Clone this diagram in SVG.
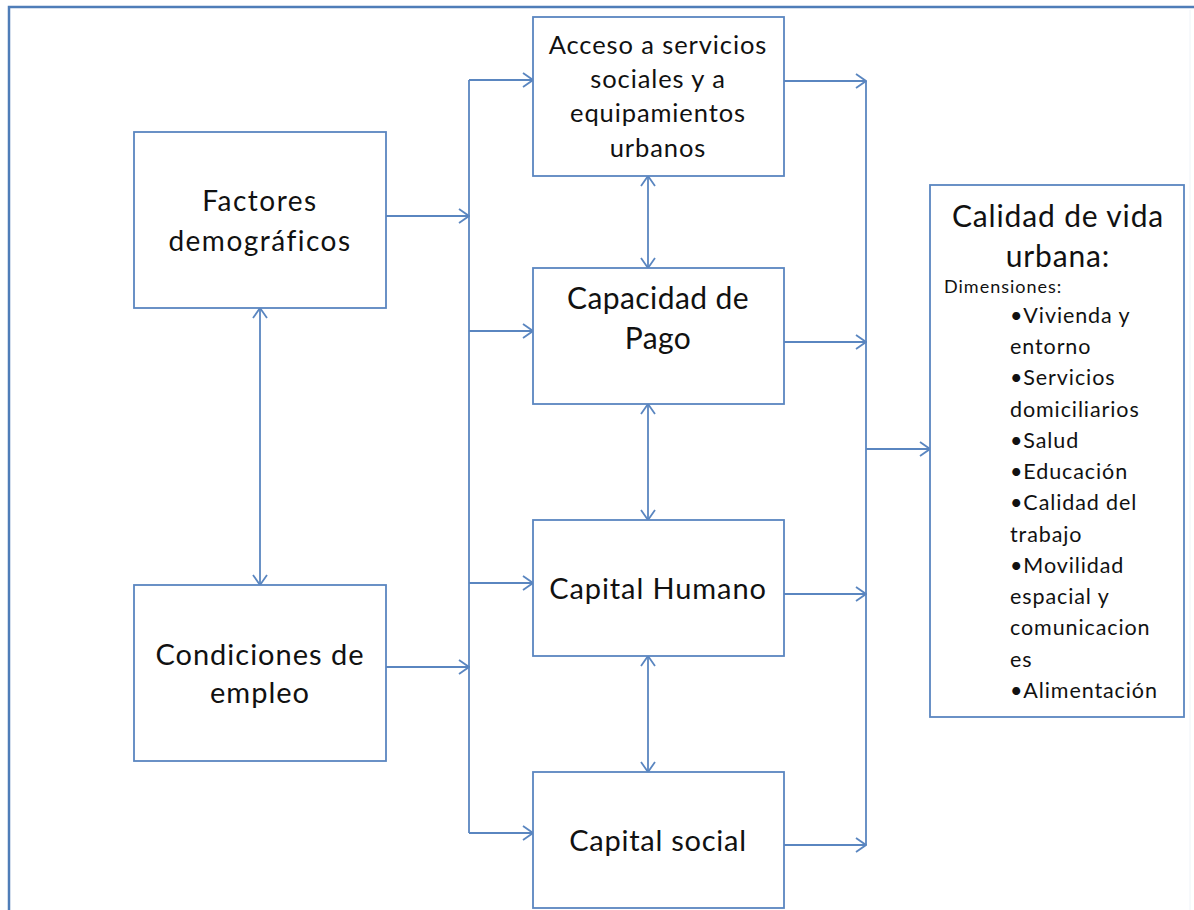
<svg xmlns="http://www.w3.org/2000/svg" width="1194" height="910" viewBox="0 0 1194 910">
  <defs>
    <style>
      .box { fill: #ffffff; stroke: #5a86c0; stroke-width: 1.8; }
      .ln { fill: none; stroke: #5a86c0; stroke-width: 1.8; }
      .t { font-family: Lato, "Liberation Sans", sans-serif; fill: #111111; text-anchor: middle; }
      .l { font-family: Lato, "Liberation Sans", sans-serif; fill: #111111; }
    </style>
    <marker id="ah" viewBox="0 0 12 16" refX="11" refY="8" markerWidth="12" markerHeight="16" markerUnits="userSpaceOnUse" orient="auto-start-reverse">
      <path d="M1,1 L11,8 L1,15" fill="none" stroke="#5a86c0" stroke-width="1.8"/>
    </marker>
  </defs>
  <rect width="1194" height="910" fill="#ffffff"/>
  <path d="M9,910 V7 H1194" fill="none" stroke="#4f7db8" stroke-width="2.5"/>
  <line x1="1190" y1="10" x2="1190" y2="910" stroke="#eef3f8" stroke-width="1"/>

  <g id="connectors">
    <line class="ln" x1="469" y1="80" x2="469" y2="833"/>
    <line class="ln" x1="386" y1="216" x2="469" y2="216" marker-end="url(#ah)"/>
    <line class="ln" x1="386" y1="667" x2="469" y2="667" marker-end="url(#ah)"/>
    <line class="ln" x1="469" y1="80" x2="533" y2="80" marker-end="url(#ah)"/>
    <line class="ln" x1="469" y1="331" x2="533" y2="331" marker-end="url(#ah)"/>
    <line class="ln" x1="469" y1="583" x2="533" y2="583" marker-end="url(#ah)"/>
    <line class="ln" x1="469" y1="833" x2="533" y2="833" marker-end="url(#ah)"/>

    <line class="ln" x1="866" y1="81" x2="866" y2="845"/>
    <line class="ln" x1="784" y1="81" x2="866" y2="81" marker-end="url(#ah)"/>
    <line class="ln" x1="784" y1="342" x2="866" y2="342" marker-end="url(#ah)"/>
    <line class="ln" x1="784" y1="594" x2="866" y2="594" marker-end="url(#ah)"/>
    <line class="ln" x1="784" y1="845" x2="866" y2="845" marker-end="url(#ah)"/>
    <line class="ln" x1="866" y1="449" x2="930" y2="449" marker-end="url(#ah)"/>

    <line class="ln" x1="648" y1="176" x2="648" y2="268" marker-start="url(#ah)" marker-end="url(#ah)"/>
    <line class="ln" x1="648" y1="404" x2="648" y2="520" marker-start="url(#ah)" marker-end="url(#ah)"/>
    <line class="ln" x1="648" y1="656" x2="648" y2="772" marker-start="url(#ah)" marker-end="url(#ah)"/>
    <line class="ln" x1="260" y1="308" x2="260" y2="585" marker-start="url(#ah)" marker-end="url(#ah)"/>
  </g>

  <g id="factores">
    <rect class="box" x="134" y="132" width="252" height="176"/>
    <text class="t" font-size="28" letter-spacing="1.5"><tspan x="260" y="211">Factores</tspan><tspan x="260" y="251">demográficos</tspan></text>
  </g>
  <g id="condiciones">
    <rect class="box" x="134" y="585" width="252" height="176"/>
    <text class="t" font-size="29" letter-spacing="1"><tspan x="260" y="665">Condiciones de</tspan><tspan x="260" y="703">empleo</tspan></text>
  </g>
  <g id="acceso">
    <rect class="box" x="533" y="17" width="251" height="159"/>
    <text class="t" font-size="25.5" letter-spacing="0.9"><tspan x="658" y="54">Acceso a servicios</tspan><tspan x="658" y="88">sociales y a</tspan><tspan x="658" y="122">equipamientos</tspan><tspan x="658" y="157">urbanos</tspan></text>
  </g>
  <g id="capacidad">
    <rect class="box" x="533" y="268" width="251" height="136"/>
    <text class="t" font-size="30" letter-spacing="0.4"><tspan x="658" y="309">Capacidad de</tspan><tspan x="658" y="349">Pago</tspan></text>
  </g>
  <g id="humano">
    <rect class="box" x="533" y="520" width="251" height="136"/>
    <text class="t" font-size="29" letter-spacing="0.9" x="658" y="599">Capital Humano</text>
  </g>
  <g id="social">
    <rect class="box" x="533" y="772" width="251" height="136"/>
    <text class="t" font-size="29" letter-spacing="0.75" x="658" y="851">Capital social</text>
  </g>
  <g id="calidad">
    <rect class="box" x="930" y="185" width="254" height="532"/>
    <text class="t" font-size="30" letter-spacing="0.85"><tspan x="1058" y="227">Calidad de vida</tspan><tspan x="1058" y="267">urbana:</tspan></text>
    <text class="l" font-size="18" letter-spacing="1" x="944" y="293">Dimensiones:</text>
    <text class="l" font-size="21.5" letter-spacing="0.9">
      <tspan x="1010" y="323">•Vivienda y</tspan>
      <tspan x="1010" y="354">entorno</tspan>
      <tspan x="1010" y="385">•Servicios</tspan>
      <tspan x="1010" y="417">domiciliarios</tspan>
      <tspan x="1010" y="448">•Salud</tspan>
      <tspan x="1010" y="479">•Educación</tspan>
      <tspan x="1010" y="510">•Calidad del</tspan>
      <tspan x="1010" y="542">trabajo</tspan>
      <tspan x="1010" y="573">•Movilidad</tspan>
      <tspan x="1010" y="604">espacial y</tspan>
      <tspan x="1010" y="635">comunicacion</tspan>
      <tspan x="1010" y="667">es</tspan>
      <tspan x="1010" y="698">•Alimentación</tspan>
    </text>
  </g>
</svg>
